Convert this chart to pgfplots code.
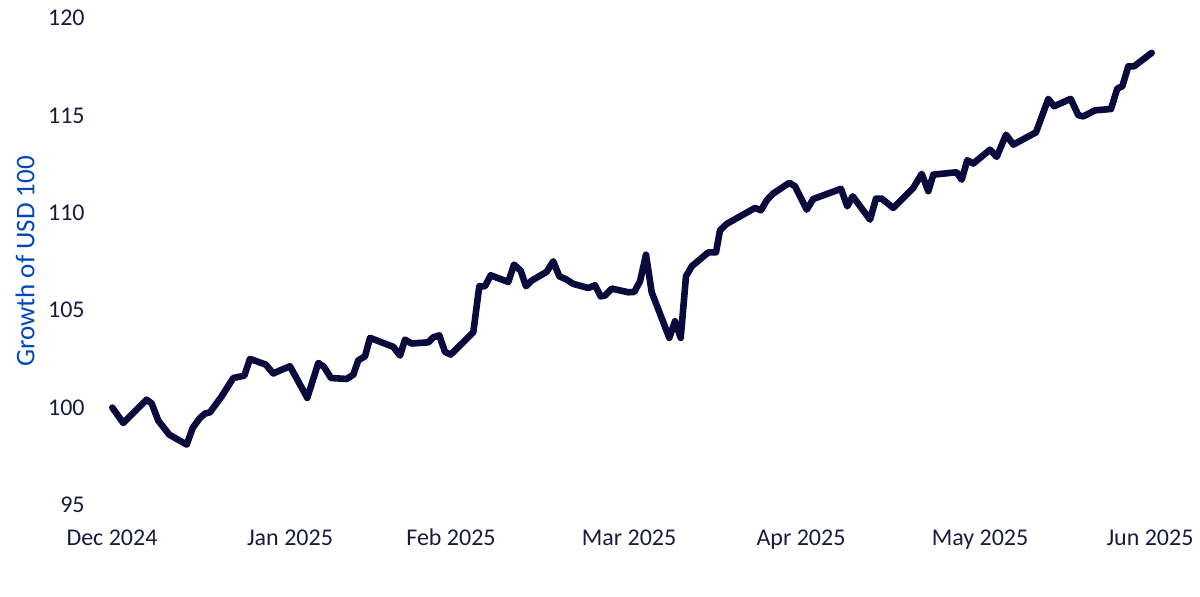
\documentclass[border=0pt]{standalone}
\usepackage{pgfplots}
\pgfplotsset{compat=1.18}
\usepackage{fontspec}
\setmainfont{Carlito}
\definecolor{navy}{RGB}{10,10,60}
\definecolor{ticknavy}{RGB}{26,26,64}
\definecolor{labelblue}{RGB}{0,71,187}
\begin{document}
\begin{tikzpicture}
\useasboundingbox (-56pt,-45.5pt) rectangle (544pt,252.5pt);
\begin{axis}[
  at={(0,0)}, anchor=south west,
  scale only axis,
  width=520pt, height=243.5pt,
  xmin=112, xmax=1152,
  ymin=95, ymax=120,
  ytick={95,100,105,110,115,120},
  xtick={112,290,451,629,801,980,1150},
  xticklabels={Dec 2024,Jan 2025,Feb 2025,Mar 2025,Apr 2025,May 2025,Jun 2025},
  axis line style={draw=none},
  tick style={draw=none},
  major tick length=0pt,
  clip=false,
  /pgf/number format/assume math mode=true,
  tick label style={font=\fontsize{12}{14}\selectfont, text=ticknavy},
  yticklabel style={anchor=east, inner sep=0pt, xshift=-13.5pt},
  xticklabel style={anchor=base, inner sep=0pt, yshift=-20pt},
  ylabel={Growth of USD 100},
  ylabel style={at={(axis description cs:-0.08365,0.5)}, anchor=center, font=\fontsize{13.5}{16}\selectfont, text=labelblue},
]
\addplot[navy, line width=3.3pt, line join=round, line cap=round] coordinates {
(112.3,100.00) (123.3,99.21) (146.7,100.41) (151.7,100.21) (158.3,99.33)
(169.3,98.61) (186.7,98.10) (192.7,98.96) (200,99.47) (205,99.69)
(210,99.76) (221.7,100.58) (233.3,101.52) (244.3,101.64) (250,102.50)
(265.7,102.21) (273.3,101.75) (280,101.91) (290,102.12) (307.3,100.50)
(318.3,102.29) (324,102.09) (331,101.52) (346.7,101.47) (353.3,101.69)
(358.3,102.43) (365,102.63) (370,103.58) (393.3,103.12) (400,102.67)
(405,103.49) (411.7,103.29) (428.3,103.35) (433.3,103.61) (439.3,103.71)
(445,102.86) (450.7,102.72) (473.3,103.87) (479.3,106.23) (485,106.23)
(490.7,106.79) (508.3,106.45) (514,107.34) (520.7,107.03) (526,106.23)
(531.7,106.52) (546.7,106.97) (553.3,107.51) (559.3,106.74) (566.7,106.57)
(573.3,106.35) (588.3,106.14) (595,106.28) (600.7,105.71) (605,105.75)
(611.7,106.11) (628.3,105.92) (634.3,105.94) (640,106.48) (646,107.85)
(651.7,105.92) (669.3,103.58) (675,104.43) (680.7,103.58) (686,106.74)
(691.7,107.25) (708.3,107.97) (716,107.97) (720,109.10) (726.7,109.43)
(755,110.25) (761,110.13) (766.7,110.64) (772.7,110.97) (789.3,111.54)
(795,111.36) (806.7,110.16) (813.3,110.71) (841,111.23) (847.3,110.33)
(852.7,110.85) (870,109.65) (876,110.73) (881.7,110.73) (893.3,110.25)
(910,111.11) (913.3,111.28) (921.7,112.00) (928.3,111.11) (933.3,111.96)
(956.7,112.08) (961.7,111.70) (967.3,112.70) (973.3,112.53) (990,113.24)
(996.7,112.87) (1006,114.01) (1013.3,113.50) (1036,114.13) (1048.3,115.85)
(1054,115.47) (1070.7,115.85) (1078.3,115.01) (1083.3,114.95) (1095,115.26)
(1111,115.33) (1117.3,116.38) (1122.3,116.49) (1128.3,117.52) (1134,117.52)
(1151.7,118.21)
};
\end{axis}
\end{tikzpicture}
\end{document}
